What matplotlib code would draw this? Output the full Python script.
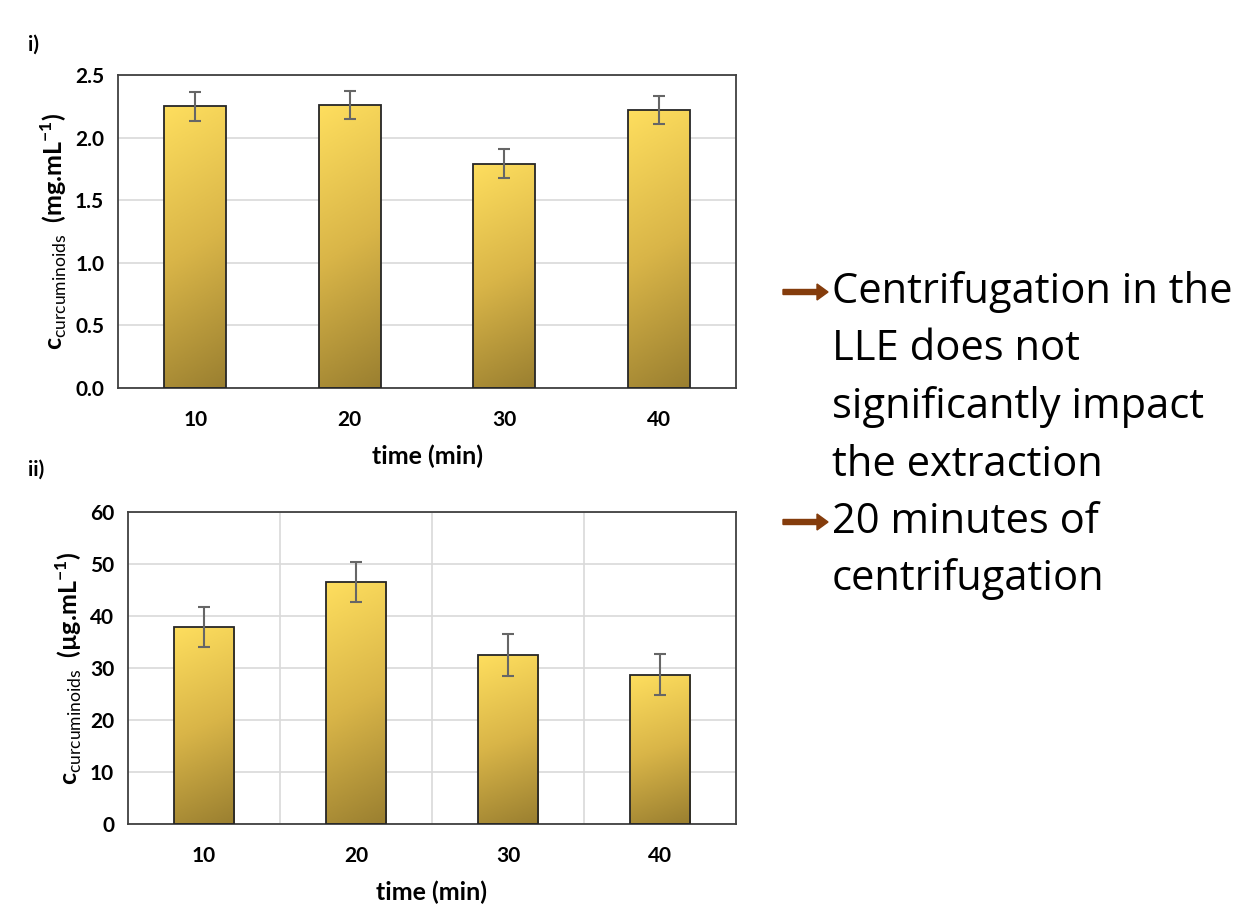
import numpy as np
import matplotlib.pyplot as plt
from matplotlib.colors import LinearSegmentedColormap

plt.rcParams['font.family'] = ['Lato', 'DejaVu Sans']
plt.rcParams['mathtext.fontset'] = 'custom'
plt.rcParams['mathtext.rm'] = 'Lato'
plt.rcParams['mathtext.bf'] = 'Lato:bold'

times = ['10', '20', '30', '40']

# i) mg/mL
conc_mg = [2.25, 2.26, 1.79, 2.22]
err_mg = [0.115, 0.115, 0.115, 0.115]

# ii) ug/mL
conc_ug = [37.9, 46.5, 32.5, 28.7]
err_ug = [3.8, 3.9, 4.0, 3.9]

W, H = 1242, 909
fig = plt.figure(figsize=(W / 100, H / 100), dpi=100)

ax1 = fig.add_axes([118 / W, 1 - 388 / H, 618 / W, 313 / H])
ax2 = fig.add_axes([128 / W, 1 - 824 / H, 608 / W, 312 / H])

grad_cmap = LinearSegmentedColormap.from_list('gold', ['#9a7f30', '#d9b548', '#fede5e'])


def gradient_bars(ax, values, errors, ymax, yticks, fmt, ylabel, vgrid):
    x = np.arange(len(values))
    bars = ax.bar(x, values, width=0.4, facecolor='none', edgecolor='#262626',
                  linewidth=1.3, zorder=3)
    # mostly vertical gradient, a bit darker to the right at the bottom
    yy, xx = np.mgrid[0:1:200j, 0:1:50j]
    g = yy * 0.88 + (1 - xx) * 0.12
    for b in bars:
        x0, y0 = b.get_x(), b.get_y()
        im = ax.imshow(g, cmap=grad_cmap, origin='lower', aspect='auto',
                       extent=[x0, x0 + b.get_width(), y0, y0 + b.get_height()],
                       vmin=0, vmax=1, zorder=2)
        im.set_clip_path(b)
    ax.errorbar(x, values, yerr=errors, fmt='none', ecolor='#666666',
                elinewidth=1.5, capsize=4, capthick=1.5, zorder=4)
    ax.set_xlim(-0.5, len(values) - 0.5)
    ax.set_ylim(0, ymax)
    ax.set_yticks(yticks)
    ax.set_yticklabels([fmt.format(t) for t in yticks], fontweight='bold', fontsize=15)
    ax.set_xticks(x)
    ax.set_xticklabels(times, fontweight='bold', fontsize=15)
    ax.tick_params(length=0, pad=16)
    ax.tick_params(axis='y', pad=10)
    ax.grid(axis='y', color='#d9d9d9', linewidth=1.2, zorder=0)
    if vgrid:
        for xv in x[:-1] + 0.5:
            ax.axvline(xv, color='#d9d9d9', linewidth=1.2, zorder=0)
    ax.set_axisbelow(True)
    for s in ax.spines.values():
        s.set_color('#404040')
        s.set_linewidth(1.3)
    ax.set_xlabel('time (min)', fontweight='bold', fontsize=18, labelpad=10)
    ax.set_ylabel(ylabel, fontsize=18, fontweight='bold', labelpad=4)


gradient_bars(ax1, conc_mg, err_mg, 2.5, np.arange(0, 2.51, 0.5), '{:.1f}',
              r'$\mathbf{c}_{\mathrm{curcuminoids}}$  (mg.mL$^{\mathbf{-1}}$)', False)
gradient_bars(ax2, conc_ug, err_ug, 60, np.arange(0, 61, 10), '{:.0f}',
              r'$\mathbf{c}_{\mathrm{curcuminoids}}$  (µg.mL$^{\mathbf{-1}}$)', True)

fig.text(28 / W, 1 - 45 / H, 'i)', fontweight='bold', fontsize=15, va='center')
fig.text(28 / W, 1 - 470 / H, 'ii)', fontweight='bold', fontsize=15, va='center')

lines = ['Centrifugation in the', 'LLE does not', 'significantly impact',
         'the extraction', '20 minutes of', 'centrifugation']
arrow_rows = [0, 4]
for i, t in enumerate(lines):
    yc = 1 - (292 + i * 57.5) / H
    fig.text(832 / W, yc, t, fontsize=30, va='center', family=['Open Sans', 'DejaVu Sans'])
    if i in arrow_rows:
        fig.patches.append(plt.matplotlib.patches.FancyArrow(
            783 / W, yc, 34 / W, 0, width=5 / H, head_width=16 / H,
            head_length=11 / W, length_includes_head=False,
            color='#843c0c', transform=fig.transFigure, figure=fig))

fig.savefig('out.png', dpi=100)
